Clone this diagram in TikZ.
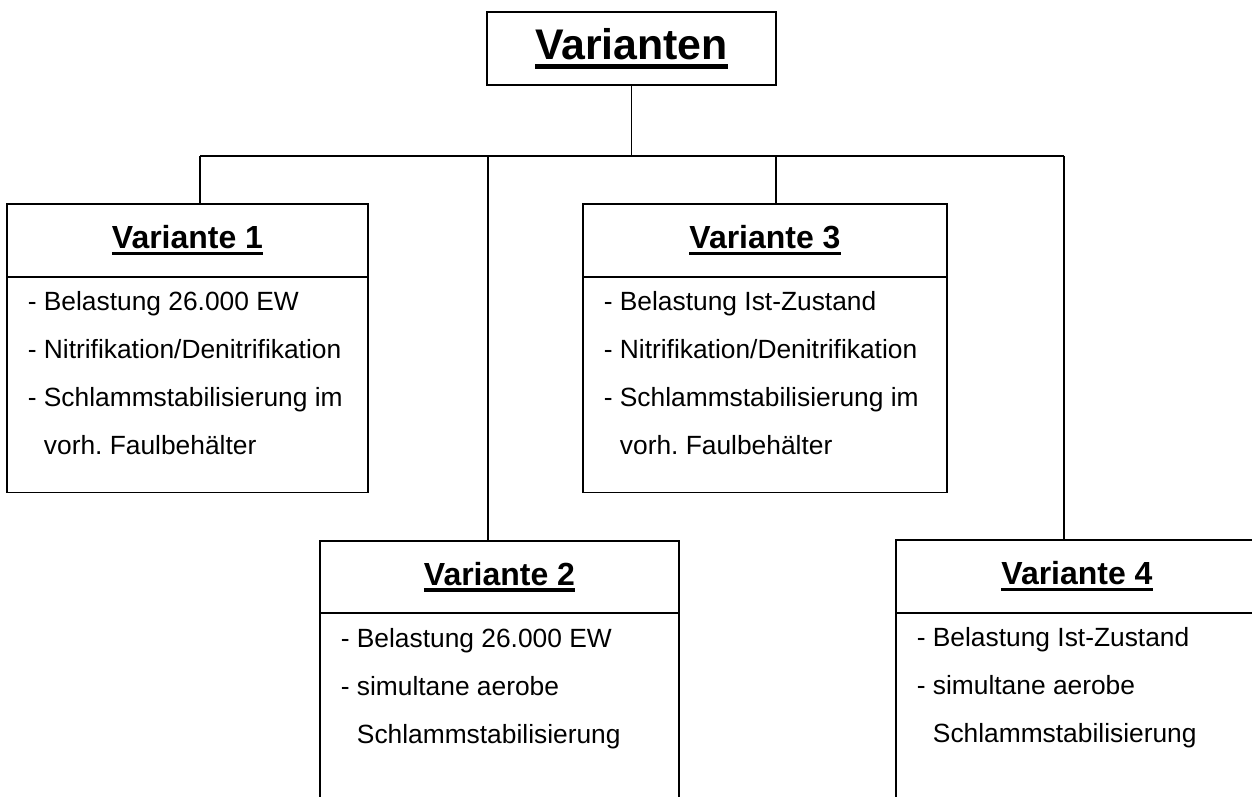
\documentclass[tikz,border=0pt]{standalone}
\usepackage{fontspec}
\setmainfont{Liberation Sans}
\usetikzlibrary{positioning}

\newsavebox{\titlebox}
\newcommand{\ultitle}[1]{\sbox{\titlebox}{#1}\rlap{\rule[-0.21em]{\wd\titlebox}{0.11em}}\usebox{\titlebox}}

\begin{document}
\begin{tikzpicture}[x=0.02cm,y=-0.02cm,line width=0.9pt,
	head/.style={draw,rectangle,inner sep=0,outer sep=0,minimum height=1.45cm,font=\bfseries\fontsize{18.2}{22}\selectfont},
	bodybox/.style={draw,rectangle,inner sep=0,outer sep=0,minimum height=4.32cm},
	items/.style={inner sep=0,align=left,font=\frenchspacing\fontsize{15}{27.3}\selectfont,below right=0.28cm and 0.4cm of #1}]

			\useasboundingbox (0,0) rectangle (1252,797);
			\clip (0,0) rectangle (1252,797);

			\node[head,minimum width=5.78cm,font=\bfseries\fontsize{24.4}{29}\selectfont] (top) at (631.5,48.5) {\ultitle{Varianten}};

			\node[head,minimum width=7.22cm] (v1) at (187.5,240.5) {\ultitle{Variante 1}};
			\node[bodybox,minimum width=7.22cm,below=0pt of v1] (v1b) {};
			\node[items=v1b.north west] (v1t) {- Belastung 26.000 EW\\- Nitrifikation/Denitrifikation\\- Schlammstabilisierung im\\\phantom{- }vorh. Faulbehälter};

			\node[head,minimum width=7.28cm] (v3) at (765,240.5) {\ultitle{Variante 3}};
			\node[bodybox,minimum width=7.28cm,below=0pt of v3] (v3b) {};
			\node[items=v3b.north west] (v3t) {- Belastung Ist-Zustand\\- Nitrifikation/Denitrifikation\\- Schlammstabilisierung im\\\phantom{- }vorh. Faulbehälter};

			\node[head,minimum width=7.18cm] (v2) at (499.5,577) {\ultitle{Variante 2}};
			\node[bodybox,minimum width=7.18cm,below=0pt of v2] (v2b) {};
			\node[items=v2b.north west] (v2t) {- Belastung 26.000 EW\\- simultane aerobe\\\phantom{- }Schlammstabilisierung};

			\node[head,minimum width=7.24cm] (v4) at (1077,576.5) {\ultitle{Variante 4}};
			\node[bodybox,minimum width=7.24cm,below=0pt of v4] (v4b) {};
			\node[items=v4b.north west] (v4t) {- Belastung Ist-Zustand\\- simultane aerobe\\\phantom{- }Schlammstabilisierung};

			% connectors
			\coordinate (c1) at (200,156);
			\coordinate (c2) at (488,156);
			\coordinate (c3) at (776,156);
			\coordinate (c4) at (1064,156);
			\draw (top.south) -- (top.south |- c1);
			\draw (c1) -- (c4);
			\draw (c1) -- (c1 |- v1.north);
			\draw (c2) -- (c2 |- v2.north);
			\draw (c3) -- (c3 |- v3.north);
			\draw (c4) -- (c4 |- v4.north);

		\end{tikzpicture}
\end{document}
